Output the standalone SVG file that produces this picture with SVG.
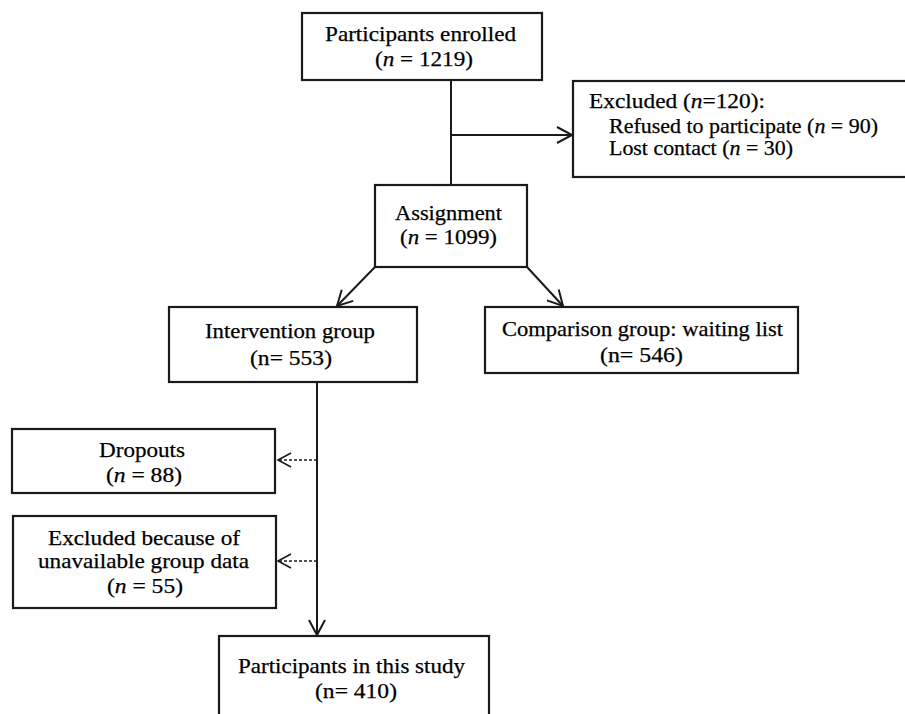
<svg xmlns="http://www.w3.org/2000/svg" width="905" height="714" viewBox="0 0 905 714">
<defs>
<marker id="arr" markerUnits="userSpaceOnUse" markerWidth="20" markerHeight="20" refX="0" refY="0" orient="auto" overflow="visible">
<path d="M -15 -8 L 0 0 L -15 8" fill="none" stroke="#1a1a1a" stroke-width="2"/>
</marker>
<marker id="arrd" markerUnits="userSpaceOnUse" markerWidth="20" markerHeight="20" refX="0" refY="0" orient="auto" overflow="visible">
<path d="M -13 -7 L 0 0 L -13 7" fill="none" stroke="#1a1a1a" stroke-width="1.6"/>
</marker>
</defs>
<style>
.box{fill:#fff;stroke:#1a1a1a;stroke-width:2.2}
.t{font-family:"Liberation Serif","Times New Roman",serif;font-size:21.5px;fill:#000;stroke:#000;stroke-width:0.25}
.i{font-style:italic}
.ln{fill:none;stroke:#1a1a1a;stroke-width:2}
.dash{fill:none;stroke:#1a1a1a;stroke-width:1.6;stroke-dasharray:3 2}
</style>
<rect width="905" height="714" fill="#fff"/>
<g id="connectors">
<line class="ln" x1="451" y1="80" x2="451" y2="185"/>
<line class="ln" x1="451" y1="135" x2="572" y2="135" marker-end="url(#arr)"/>
<line class="ln" x1="375" y1="267" x2="337" y2="306" marker-end="url(#arr)"/>
<line class="ln" x1="527" y1="267" x2="563" y2="306" marker-end="url(#arr)"/>
<line class="ln" x1="317" y1="382" x2="317" y2="635" marker-end="url(#arr)"/>
<line class="dash" x1="317" y1="460" x2="278" y2="460" marker-end="url(#arrd)"/>
<line class="dash" x1="317" y1="561" x2="278" y2="561" marker-end="url(#arrd)"/>
</g>
<g id="enrolled">
<rect class="box" x="302" y="13" width="240" height="67"/>
<text class="t" x="325" y="41" textLength="191" lengthAdjust="spacingAndGlyphs">Participants enrolled</text>
<text class="t" x="375" y="66" textLength="98" lengthAdjust="spacingAndGlyphs">(<tspan class="i">n</tspan> = 1219)</text>
</g>
<g id="excluded">
<rect class="box" x="573" y="81" width="340" height="96"/>
<text class="t" x="589" y="108" textLength="176" lengthAdjust="spacingAndGlyphs">Excluded (<tspan class="i">n</tspan>=120):</text>
<text class="t" x="609" y="133" textLength="269" lengthAdjust="spacingAndGlyphs">Refused to participate (<tspan class="i">n</tspan> = 90)</text>
<text class="t" x="609" y="155" textLength="184" lengthAdjust="spacingAndGlyphs">Lost contact (<tspan class="i">n</tspan> = 30)</text>
</g>
<g id="assignment">
<rect class="box" x="375" y="185" width="152" height="82"/>
<text class="t" x="395" y="220" textLength="107" lengthAdjust="spacingAndGlyphs">Assignment</text>
<text class="t" x="400" y="244" textLength="97" lengthAdjust="spacingAndGlyphs">(<tspan class="i">n</tspan> = 1099)</text>
</g>
<g id="intervention">
<rect class="box" x="169" y="307" width="248" height="75"/>
<text class="t" x="205" y="338" textLength="170" lengthAdjust="spacingAndGlyphs">Intervention group</text>
<text class="t" x="250" y="365" textLength="82" lengthAdjust="spacingAndGlyphs">(n= 553)</text>
</g>
<g id="comparison">
<rect class="box" x="485" y="307" width="313" height="66"/>
<text class="t" x="502" y="336" textLength="281" lengthAdjust="spacingAndGlyphs">Comparison group: waiting list</text>
<text class="t" x="600" y="362" textLength="83" lengthAdjust="spacingAndGlyphs">(n= 546)</text>
</g>
<g id="dropouts">
<rect class="box" x="12" y="429" width="263" height="64"/>
<text class="t" x="99" y="457" textLength="86" lengthAdjust="spacingAndGlyphs">Dropouts</text>
<text class="t" x="106" y="482" textLength="76" lengthAdjust="spacingAndGlyphs">(<tspan class="i">n</tspan> = 88)</text>
</g>
<g id="excluded-data">
<rect class="box" x="13" y="516" width="263" height="92"/>
<text class="t" x="48" y="545" textLength="192" lengthAdjust="spacingAndGlyphs">Excluded because of</text>
<text class="t" x="38" y="568" textLength="211" lengthAdjust="spacingAndGlyphs">unavailable group data</text>
<text class="t" x="107" y="593" textLength="76" lengthAdjust="spacingAndGlyphs">(<tspan class="i">n</tspan> = 55)</text>
</g>
<g id="study">
<rect class="box" x="219" y="636" width="270" height="90"/>
<text class="t" x="238" y="673" textLength="227" lengthAdjust="spacingAndGlyphs">Participants in this study</text>
<text class="t" x="315" y="698" textLength="82" lengthAdjust="spacingAndGlyphs">(n= 410)</text>
</g>
</svg>
